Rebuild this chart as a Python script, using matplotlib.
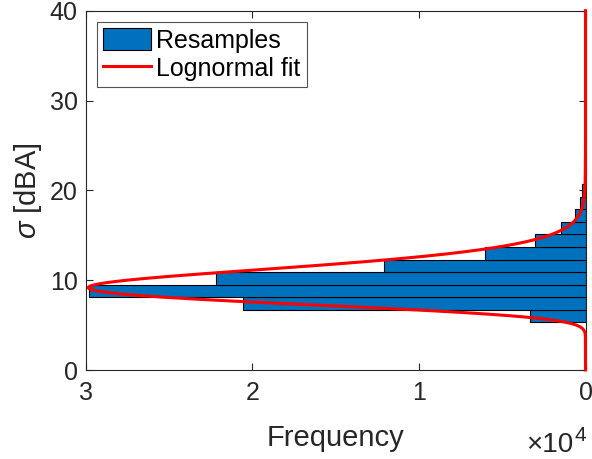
import numpy as np
import matplotlib
matplotlib.use("Agg")
import matplotlib.pyplot as plt
from matplotlib.ticker import FixedLocator

plt.rcParams['font.family'] = ['Liberation Sans', 'DejaVu Sans']
plt.rcParams['mathtext.fontset'] = 'custom'
plt.rcParams['mathtext.rm'] = 'Liberation Sans'
plt.rcParams['mathtext.it'] = 'Liberation Sans:italic'

# ---- data ----
bin_edges = [5.3, 6.7, 8.1, 9.5, 10.9, 12.3, 13.7, 15.1, 16.5, 17.9, 19.3, 20.7, 22.1, 23.5, 24.9]
counts = [3320, 20550, 29820, 22170, 12100, 6020, 3010, 1450, 650, 330, 200, 120, 70, 40]

# lognormal fit parameters
fit_mu = 2.262
fit_sigma = 0.215
fit_scale = 1.51e5   # N * bin width

x_ticks = [0, 1e4, 2e4, 3e4]
x_tick_labels = ['0', '1', '2', '3']
y_ticks = [0, 10, 20, 30, 40]

axis_col = '#262626'

fig = plt.figure(figsize=(5.92, 4.59), dpi=100)
ax = fig.add_axes([86/592, (459-370)/459, (585.5-86)/592, (370-10.7)/459])

edges = np.array(bin_edges)
bars = ax.barh(edges[:-1], counts, height=np.diff(edges), left=0, align='edge',
               color='#0072BD', edgecolor='black', linewidth=0.8, label='Resamples', zorder=2)

ys = np.linspace(0.01, 40, 2000)
pdf = np.exp(-(np.log(ys) - fit_mu)**2 / (2*fit_sigma**2)) / (ys * fit_sigma * np.sqrt(2*np.pi))
line, = ax.plot(fit_scale*pdf, ys, color='#FF0000', lw=2.2, label='Lognormal fit', zorder=3, clip_on=False)

ax.set_xlim(3e4, 0)
ax.set_ylim(0, 40)
ax.xaxis.set_major_locator(FixedLocator(x_ticks))
ax.set_xticklabels(x_tick_labels)
ax.set_yticks(y_ticks)

for s in ax.spines.values():
    s.set_color(axis_col)
    s.set_linewidth(0.8)
ax.tick_params(axis='both', direction='in', length=5, width=0.8, colors=axis_col,
               labelsize=18, top=True, right=True)
ax.tick_params(axis='x', pad=8)
ax.tick_params(axis='y', pad=6)

ax.set_xlabel('Frequency', fontsize=21, color=axis_col, labelpad=13.5)
ax.set_ylabel(r'$\sigma$ [dBA]', fontsize=21, color=axis_col, labelpad=4)

fig.text(573/592, 1 - 452/459, '×10', fontsize=20, color=axis_col,
         ha='right', va='baseline')
fig.text(574.5/592, 1 - 441/459, '4', fontsize=15, color=axis_col,
         ha='left', va='baseline')

leg = ax.legend([bars, line], ['Resamples', 'Lognormal fit'], loc='upper left',
                fontsize=18, frameon=True, fancybox=False,
                borderpad=0.25, handlelength=1.9, handleheight=0.95, handletextpad=0.2,
                labelspacing=0.15, borderaxespad=0.45)
leg.get_frame().set_edgecolor(axis_col)
leg.get_frame().set_linewidth(0.8)

fig.savefig('out.png', dpi=100)
